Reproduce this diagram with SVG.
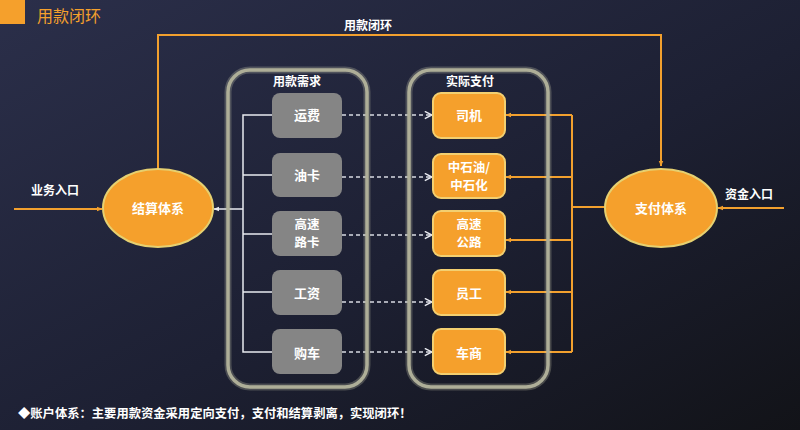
<svg xmlns="http://www.w3.org/2000/svg" width="800" height="430" viewBox="0 0 800 430">
<defs>
<linearGradient id="bg" x1="0" y1="0" x2="1" y2="1">
<stop offset="0" stop-color="#2b2f4a"/>
<stop offset="0.55" stop-color="#1d2033"/>
<stop offset="1" stop-color="#121318"/>
</linearGradient>
<marker id="ao" viewBox="0 0 10 10" refX="9" refY="5" markerWidth="6" markerHeight="6" orient="auto" markerUnits="userSpaceOnUse">
<path d="M0,1 L10,5 L0,9 z" fill="#f2a02e"/>
</marker>
<marker id="aw" viewBox="0 0 10 10" refX="9" refY="5" markerWidth="6" markerHeight="6" orient="auto" markerUnits="userSpaceOnUse">
<path d="M0,1 L10,5 L0,9 z" fill="#e8eaf0"/>
</marker>
<marker id="ac" viewBox="0 0 10 10" refX="9" refY="5" markerWidth="9" markerHeight="9" orient="auto" markerUnits="userSpaceOnUse">
<path d="M1,1 L9,5 L1,9" fill="none" stroke="#e8eaf0" stroke-width="1.6"/>
</marker>
</defs>
<style>
text{font-family:"Noto Sans CJK SC","Liberation Sans",sans-serif;fill:#ffffff;text-anchor:middle}
.t{font-size:13px;font-weight:bold}
.t2{font-size:12.5px;font-weight:bold}
.lbl{font-size:12px;font-weight:bold}
.cont{fill:none;stroke:#aeae98;stroke-width:3.5}
.glow{fill:none;stroke:#d8d8b8;stroke-width:7;opacity:0.25}
.gray{fill:#858585}
.org{fill:#f5a02c;stroke:#f3cf70;stroke-width:2}
.ell{fill:#f5a02c;stroke:#e6d070;stroke-width:2}
.ol{fill:none;stroke:#f2a02e;stroke-width:2}
.wl{fill:none;stroke:#e8eaf0;stroke-width:1.5}
.dl{fill:none;stroke:#d8dae2;stroke-width:1.5;stroke-dasharray:4,3}
</style>
<rect x="0" y="0" width="800" height="430" fill="url(#bg)"/>
<rect x="0" y="0" width="25" height="24" fill="#f5a02c"/>
<text x="37" y="22" style="font-size:16px;fill:#f5a02c;text-anchor:start">用款闭环</text>

<g id="connectors">
<path class="ol" d="M158,170 V35 H661 V166" marker-end="url(#ao)"/>
<text class="lbl" x="368" y="30">用款闭环</text>
<path class="ol" d="M14,209 H102" marker-end="url(#ao)"/>
<text class="lbl" x="55" y="195">业务入口</text>
<path class="ol" d="M784,208 H718" marker-end="url(#ao)"/>
<text class="lbl" x="749" y="199">资金入口</text>
<path class="wl" d="M272,115 H243 V352 H272 M243,175 H272 M243,234 H272 M243,292 H272"/>
<path class="wl" d="M243,209 H214" marker-end="url(#aw)"/>
<path class="dl" d="M342,115 H432" marker-end="url(#ac)"/>
<path class="dl" d="M342,177 H432" marker-end="url(#ac)"/>
<path class="dl" d="M342,235 H432" marker-end="url(#ac)"/>
<path class="dl" d="M342,302 H432" marker-end="url(#ac)"/>
<path class="dl" d="M342,352 H432" marker-end="url(#ac)"/>
<path class="ol" d="M572,115 V352 M572,207 H605"/>
<path class="ol" d="M572,115 H506" marker-end="url(#ao)"/>
<path class="ol" d="M572,177 H506" marker-end="url(#ao)"/>
<path class="ol" d="M572,240 H506" marker-end="url(#ao)"/>
<path class="ol" d="M572,292 H506" marker-end="url(#ao)"/>
<path class="ol" d="M572,352 H506" marker-end="url(#ao)"/>
</g>

<g id="demand">
<rect class="glow" x="228" y="70" width="139" height="317" rx="22"/>
<rect class="cont" x="228" y="70" width="139" height="317" rx="22"/>
<text class="lbl" x="297" y="86">用款需求</text>
</g>
<g id="payment">
<rect class="glow" x="409" y="70" width="139" height="317" rx="22"/>
<rect class="cont" x="409" y="70" width="139" height="317" rx="22"/>
<text class="lbl" x="470" y="86">实际支付</text>
</g>

<g id="settle">
<ellipse class="ell" cx="158" cy="208" rx="55" ry="39"/>
<text class="t" x="158" y="213">结算体系</text>
</g>
<g id="paysys">
<ellipse class="ell" cx="661" cy="208" rx="56" ry="39"/>
<text class="t" x="661" y="213">支付体系</text>
</g>

<g id="g1"><rect class="gray" x="272" y="93" width="70" height="45" rx="8"/><text class="t" x="307" y="120">运费</text></g>
<g id="g2"><rect class="gray" x="272" y="153" width="70" height="44" rx="8"/><text class="t" x="307" y="180">油卡</text></g>
<g id="g3"><rect class="gray" x="272" y="211" width="70" height="45" rx="8"/><text class="t2" x="307" y="229">高速<tspan x="307" dy="18">路卡</tspan></text></g>
<g id="g4"><rect class="gray" x="272" y="270" width="70" height="45" rx="8"/><text class="t" x="307" y="298">工资</text></g>
<g id="g5"><rect class="gray" x="272" y="329" width="70" height="45" rx="8"/><text class="t" x="307" y="358">购车</text></g>

<g id="o1"><rect class="org" x="433" y="93" width="72" height="45" rx="8"/><text class="t" x="469" y="120">司机</text></g>
<g id="o2"><rect class="org" x="433" y="154" width="72" height="44" rx="8"/><text class="t2" x="469" y="172">中石油/<tspan x="469" dy="18">中石化</tspan></text></g>
<g id="o3"><rect class="org" x="433" y="211" width="72" height="45" rx="8"/><text class="t2" x="469" y="229">高速<tspan x="469" dy="18">公路</tspan></text></g>
<g id="o4"><rect class="org" x="433" y="270" width="72" height="45" rx="8"/><text class="t" x="469" y="298">员工</text></g>
<g id="o5"><rect class="org" x="433" y="329" width="72" height="45" rx="8"/><text class="t" x="469" y="358">车商</text></g>

<text x="18" y="418" style="font-size:12.3px;font-weight:bold;text-anchor:start">◆账户体系：主要用款资金采用定向支付，支付和结算剥离，实现闭环！</text>
</svg>
